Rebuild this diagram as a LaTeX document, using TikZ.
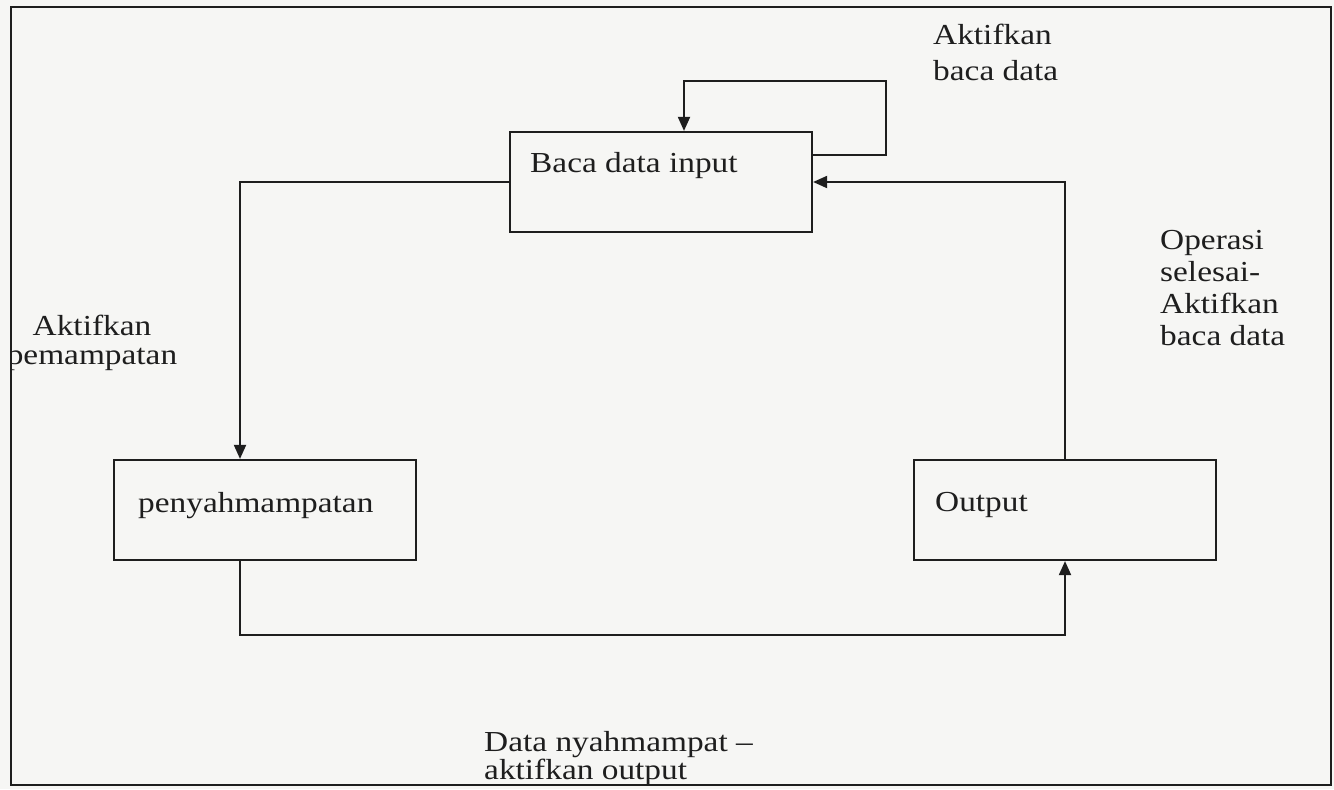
\documentclass[tikz,border=0pt]{standalone}
\usepackage{fontspec}
\setmainfont{Liberation Serif}[FakeStretch=1.15]
\usetikzlibrary{arrows.meta,calc}
\definecolor{paper}{RGB}{246,246,244}
\definecolor{ink}{RGB}{30,30,30}
\begin{document}
\begin{tikzpicture}[x=1bp,y=-1bp,
  stepbox/.style={draw=ink,line width=2.2bp,minimum width=302bp,minimum height=100bp,inner sep=0pt},
  txt/.style={text=ink,inner sep=0pt,font=\fontsize{29bp}{34bp}\selectfont},
  conn/.style={draw=ink,line width=1.9bp,-{Triangle[length=14bp,width=12bp]}}]
  % page
  \fill[paper] (0,0) rectangle (1334,789);
  \useasboundingbox (0,0) rectangle (1334,789);

  % process boxes
  \node[stepbox] (baca)   at (661,182)  {};
  \node[stepbox] (penyah) at (265,510)  {};
  \node[stepbox] (output) at (1065,510) {};

  % box captions
  \node[txt,anchor=base west] (bacaT)   at (530,172)  {Baca data input};
  \node[txt,anchor=base west] (penyahT) at (138,512)  {penyahmampatan};
  \node[txt,anchor=base west] (outputT) at (935,511)  {Output};

  % connectors
  \coordinate (loopR) at (886,81);
  \coordinate (bottom) at (650,635);
  \draw[conn] ([yshift=27bp]baca.east) -| (loopR) -| ([xshift=23bp]baca.north);
  \draw[conn] (baca.west) -| ([xshift=-25bp]penyah.north);
  \draw[conn] ([xshift=-25bp]penyah.south) |- (bottom) -| (output.south);
  \draw[conn] (output.north) |- (baca.east);

  % connector labels
  \node[txt,anchor=base west] (l1a) at (933,45)  {Aktifkan};
  \node[txt,anchor=base west] (l1b) at (933,80)  {baca data};

  \node[txt,anchor=base west] (l2a) at (1160,249) {Operasi};
  \node[txt,anchor=base west] (l2b) at (1160,281) {selesai-};
  \node[txt,anchor=base west] (l2c) at (1160,313) {Aktifkan};
  \node[txt,anchor=base west] (l2d) at (1160,345) {baca data};

  \begin{scope}
    \clip (11,0) rectangle (1334,789);
    \node[txt,anchor=base] (l3a) at (92,335) {Aktifkan};
    \node[txt,anchor=base] (l3b) at (92,364) {pemampatan};
  \end{scope}

  \node[txt,anchor=base west] (l4a) at (484,751) {Data nyahmampat --};
  \node[txt,anchor=base west] (l4b) at (484,779) {aktifkan output};

  % outer frame
  \draw[ink,line width=2bp] (11,7) rectangle (1331,785);
\end{tikzpicture}
\end{document}
